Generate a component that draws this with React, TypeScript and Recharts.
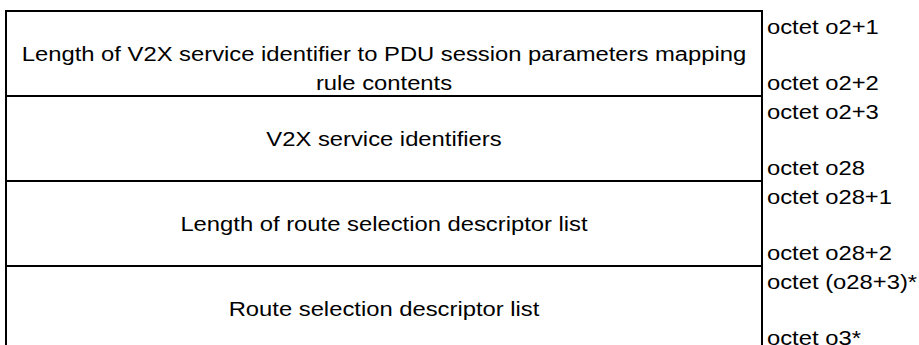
import React from "react";
import { BarChart, Bar, XAxis, YAxis, LabelList } from "recharts";

// Fields of the message (top to bottom), each row spans one unit of height
const FIELD_LINES: string[][] = [
  ["Length of V2X service identifier to PDU session parameters mapping", "rule contents"],
  ["V2X service identifiers"],
  ["Length of route selection descriptor list"],
  ["Route selection descriptor list"],
];
const FIELD_KEYS = ["f0", "f1", "f2", "f3"];
const ROW_SIZES = [1, 1, 1, 1];
const OCTET_FIRST = ["octet o2+1", "octet o2+3", "octet o28+1", "octet (o28+3)*"];
const OCTET_LAST = ["octet o2+2", "octet o28", "octet o28+2", "octet o3*"];
const CATEGORY = ["rule"];

const data = CATEGORY.map((name) => {
  const row: Record<string, any> = { name };
  FIELD_KEYS.forEach((k, i) => {
    row[k] = ROW_SIZES[i];
  });
  return row;
});

const FONT = "'Liberation Sans', Arial, Helvetica, sans-serif";
const FS = 20;
const SX = 1.19;

const T = ({ x, y, anchor, children }: any) => (
  <text
    transform={`translate(${x},${y}) scale(${SX},1)`}
    x={0}
    y={0}
    textAnchor={anchor || "start"}
    fontFamily={FONT}
    fontSize={FS}
    fill="#000"
  >
    {children}
  </text>
);

const makeLabel = (i: number) => (props: any) => {
  const x0 = Number(props.x);
  const y0 = Number(props.y);
  const w0 = Number(props.width);
  const h0 = Number(props.height);
  const x = Math.min(x0, x0 + w0);
  const w = Math.abs(w0);
  const top = Math.min(y0, y0 + h0);
  const h = Math.abs(h0);
  const lines = FIELD_LINES[i];
  const cx = x + w / 2;
  return (
    <g>
      {lines.map((ln, k) => (
        <T key={k} x={cx} y={top + h / 2 + 7.5 + k * 28.5} anchor="middle">
          {ln}
        </T>
      ))}
      <T x={x + w + 5} y={top + 22.5}>
        {OCTET_FIRST[i]}
      </T>
      <T x={x + w + 5} y={top + h - 6}>
        {OCTET_LAST[i]}
      </T>
    </g>
  );
};

export default function App() {
  return (
    <div
      style={{
        position: "absolute",
        left: 0,
        top: 0,
        width: 919,
        height: 345,
        overflow: "hidden",
        background: "#fff",
      }}
    >
      <BarChart
        width={919}
        height={360}
        data={data}
        margin={{ top: 11, right: 157, bottom: 9, left: 6 }}
        barCategoryGap={0}
        barGap={0}
      >
        <XAxis dataKey="name" type="category" hide />
        <YAxis type="number" domain={[0, 4]} reversed hide />
        {FIELD_KEYS.map((k, i) => (
          <Bar
            key={k}
            dataKey={k}
            stackId="a"
            fill="#fff"
            stroke="#000"
            strokeWidth={2}
            isAnimationActive={false}
          >
            <LabelList dataKey={k} content={makeLabel(i)} />
          </Bar>
        ))}
      </BarChart>
    </div>
  );
}
